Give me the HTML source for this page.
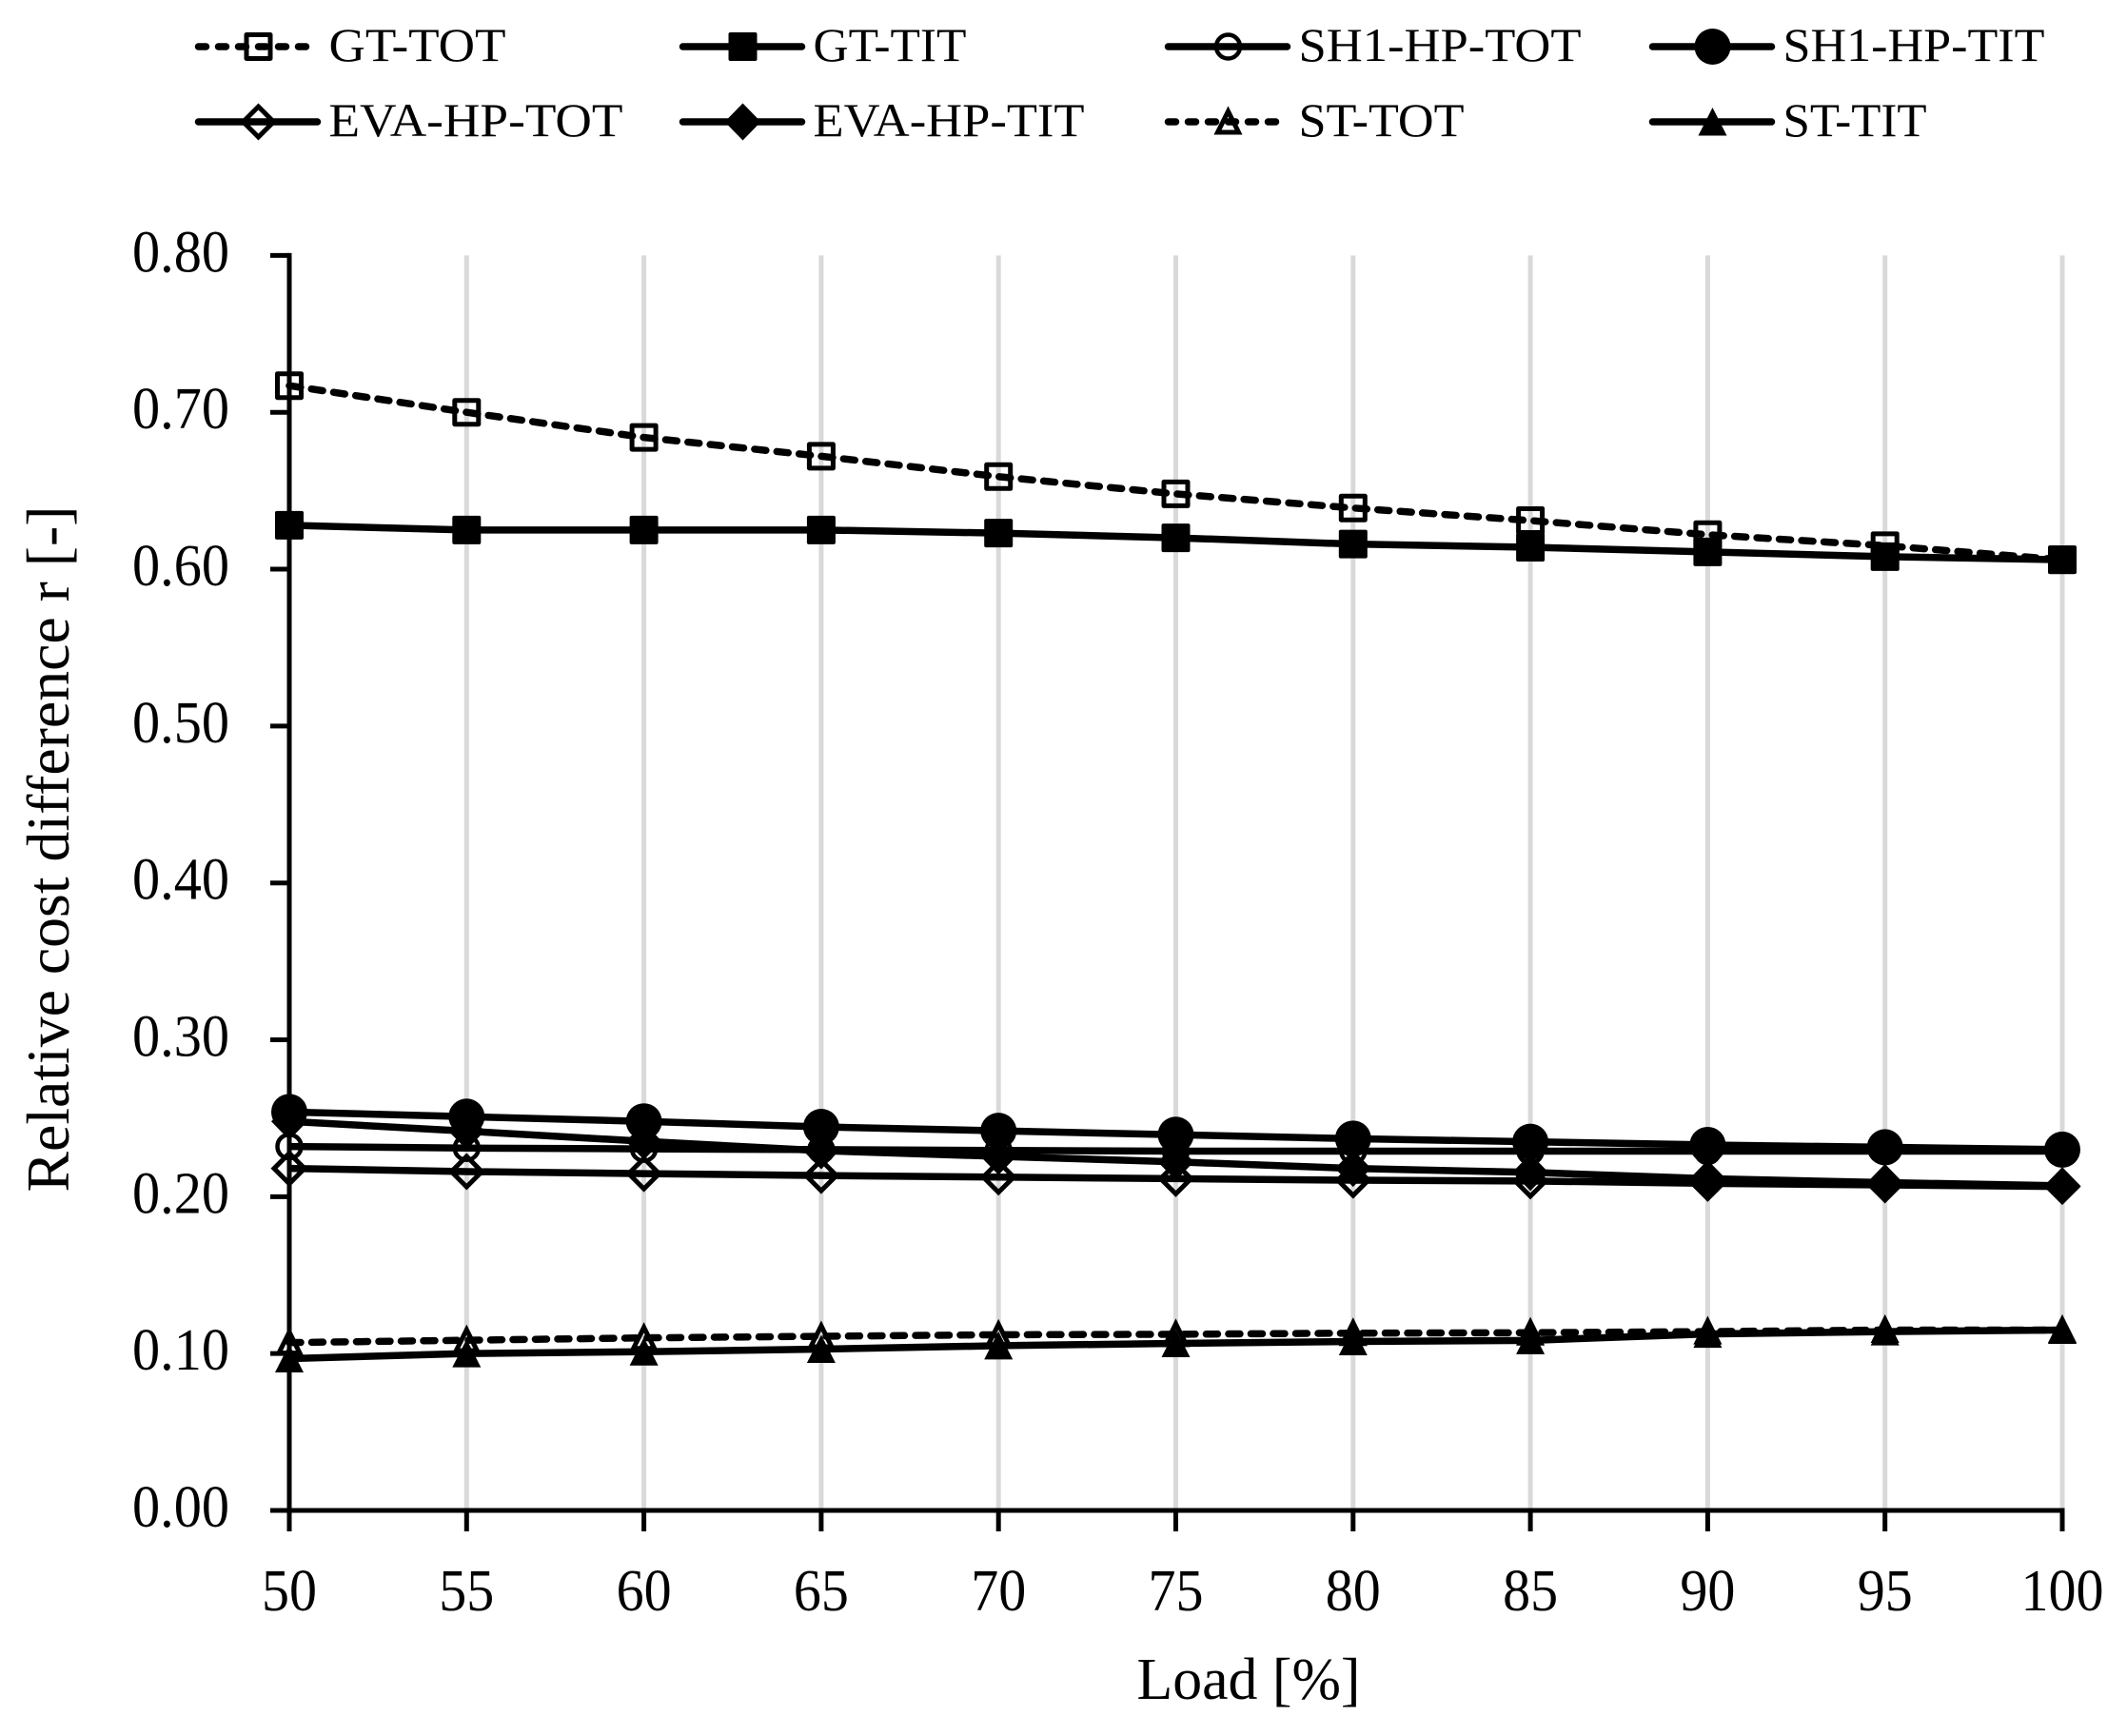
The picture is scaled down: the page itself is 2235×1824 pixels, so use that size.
<!DOCTYPE html>
<html lang="en">
<head>
<meta charset="utf-8">
<title>Relative cost difference vs load</title>
<style>
html,body{margin:0;padding:0;background:#fff;width:2235px;height:1824px;overflow:hidden}
svg{display:block}
text{font-family:"Liberation Serif","Noto Serif CJK SC",serif;fill:#000}
</style>
</head>
<body>
<svg id="chart" xmlns="http://www.w3.org/2000/svg" width="2235" height="1824" viewBox="0 0 2235 1824">
  <rect x="0" y="0" width="2235" height="1824" fill="#fff"/>
  <g id="grid"></g>
  <g id="series"></g>
  <g id="axes"></g>
  <g id="legend"></g>
  <text transform="translate(72 892) rotate(-90)" text-anchor="middle" font-size="63" textLength="721" lengthAdjust="spacingAndGlyphs">Relative cost difference r [-]</text>
  <text x="1312" y="1785" text-anchor="middle" font-size="62" textLength="235" lengthAdjust="spacingAndGlyphs">Load [%]</text>
</svg>
<script>
const loads = [50, 55, 60, 65, 70, 75, 80, 85, 90, 95, 100];
const yTicks = [0, 0.1, 0.2, 0.3, 0.4, 0.5, 0.6, 0.7, 0.8];
const yTickLabels = ['0.00', '0.10', '0.20', '0.30', '0.40', '0.50', '0.60', '0.70', '0.80'];
const xTickLabels = ['50', '55', '60', '65', '70', '75', '80', '85', '90', '95', '100'];

const gtTot = [0.717, 0.700, 0.684, 0.672, 0.659, 0.648, 0.639, 0.631, 0.622, 0.615, 0.606];
const gtTit = [0.628, 0.625, 0.625, 0.625, 0.623, 0.620, 0.616, 0.614, 0.611, 0.608, 0.606];
const sh1HpTot = [0.232, 0.231, 0.2305, 0.230, 0.2295, 0.229, 0.229, 0.229, 0.229, 0.229, 0.229];
const sh1HpTit = [0.254, 0.2510, 0.248, 0.2445, 0.242, 0.2395, 0.237, 0.235, 0.233, 0.2315, 0.230];
const evaHpTot = [0.2180, 0.216, 0.2147, 0.2135, 0.2125, 0.2115, 0.2105, 0.210, 0.2085, 0.2075, 0.2065];
const evaHpTit = [0.248, 0.2418, 0.2353, 0.2293, 0.2257, 0.2222, 0.218, 0.2155, 0.2115, 0.209, 0.2070];
const stTot = [0.107, 0.1085, 0.110, 0.111, 0.112, 0.1123, 0.113, 0.1133, 0.114, 0.115, 0.115];
const stTit = [0.0968, 0.1000, 0.1012, 0.1028, 0.1050, 0.1065, 0.1077, 0.1084, 0.1125, 0.1140, 0.115];

const NS = 'http://www.w3.org/2000/svg';
const xScale = v => 304 + (v - 50) * (2167 - 304) / 50;
const yScale = v => 1587 - v * (1587 - 268.4) / 0.8;

function make(tag, attrs, parent) {
  const el = document.createElementNS(NS, tag);
  for (const k in attrs) el.setAttribute(k, attrs[k]);
  parent.appendChild(el);
  return el;
}

function drawMarker(kind, x, y, parent) {
  let el;
  if (kind === 'square-open') {
    el = make('rect', {x: x - 12.5, y: y - 12.5, width: 25, height: 25, fill: 'none', stroke: '#000', 'stroke-width': 5, 'stroke-linejoin': 'round'}, parent);
  } else if (kind === 'square-filled') {
    el = make('rect', {x: x - 15, y: y - 15, width: 30, height: 30, rx: 2, fill: '#000'}, parent);
  } else if (kind === 'circle-open') {
    el = make('circle', {cx: x, cy: y, r: 12.5, fill: 'none', stroke: '#000', 'stroke-width': 4.5}, parent);
  } else if (kind === 'circle-filled') {
    el = make('circle', {cx: x, cy: y, r: 19, fill: '#000'}, parent);
  } else if (kind === 'diamond-open') {
    el = make('polygon', {points: [x, y - 16, x + 16, y, x, y + 16, x - 16, y].join(' '), fill: 'none', stroke: '#000', 'stroke-width': 5, 'stroke-linejoin': 'miter'}, parent);
  } else if (kind === 'diamond-filled') {
    el = make('polygon', {points: [x, y - 19.5, x + 19, y, x, y + 19.5, x - 19, y].join(' '), fill: '#000'}, parent);
  } else if (kind === 'triangle-open') {
    el = make('polygon', {points: [x, y - 11, x + 11, y + 11, x - 11, y + 11].join(' '), fill: 'none', stroke: '#000', 'stroke-width': 5, 'stroke-linejoin': 'miter'}, parent);
  } else {
    el = make('polygon', {points: [x, y - 15, x + 15, y + 14.5, x - 15, y + 14.5].join(' '), fill: '#000'}, parent);
  }
  return el;
}

const grid = document.getElementById('grid');
loads.forEach(load => {
  if (load === 50) return;
  const line = make('line', {x1: xScale(load), x2: xScale(load), y1: yScale(0.8), y2: yScale(0), stroke: '#d9d9d9', 'stroke-width': 5}, grid);
  
  
});

const seriesGroup = document.getElementById('series');
function drawSeries(name, values, kind, dashed) {
  const g = make('g', {}, seriesGroup);
  
  
  const points = values.map((v, i) => xScale(loads[i]) + ',' + yScale(v)).join(' ');
  const attrs = {points: points, fill: 'none', stroke: '#000', 'stroke-width': 7.5, 'stroke-linejoin': 'round'};
  if (dashed) {
    attrs['stroke-dasharray'] = '12 11.5';
    attrs['stroke-linecap'] = 'round';
  }
  const line = make('polyline', attrs, g);
  
  
  values.forEach((v, i) => {
    const m = drawMarker(kind, xScale(loads[i]), yScale(v), g);
    
    
  });
}
drawSeries('gt-tot', gtTot, 'square-open', true);
drawSeries('gt-tit', gtTit, 'square-filled', false);
drawSeries('sh1-hp-tot', sh1HpTot, 'circle-open', false);
drawSeries('sh1-hp-tit', sh1HpTit, 'circle-filled', false);
drawSeries('eva-hp-tot', evaHpTot, 'diamond-open', false);
drawSeries('eva-hp-tit', evaHpTit, 'diamond-filled', false);
drawSeries('st-tot', stTot, 'triangle-open', true);
drawSeries('st-tit', stTit, 'triangle-filled', false);

const axes = document.getElementById('axes');
const ySpine = make('line', {x1: xScale(50), x2: xScale(50), y1: yScale(0.8) - 2.5, y2: yScale(0) + 22, stroke: '#000', 'stroke-width': 5}, axes);


const xSpine = make('line', {x1: xScale(50) - 20, x2: xScale(100) + 2.5, y1: yScale(0), y2: yScale(0), stroke: '#000', 'stroke-width': 5}, axes);



yTicks.forEach((t, i) => {
  const y = yScale(t);
  const tick = make('line', {x1: xScale(50) - 20, x2: xScale(50), y1: y, y2: y, stroke: '#000', 'stroke-width': 5}, axes);
  
  
  const label = make('text', {x: 241, y: y + 17, 'text-anchor': 'end', 'font-size': 62, textLength: 102, lengthAdjust: 'spacingAndGlyphs'}, axes);
  label.textContent = yTickLabels[i];
  
  
});

loads.forEach((load, i) => {
  const x = xScale(load);
  const tick = make('line', {x1: x, x2: x, y1: yScale(0), y2: yScale(0) + 22, stroke: '#000', 'stroke-width': 5}, axes);
  
  
  const label = make('text', {x: x, y: 1692, 'text-anchor': 'middle', 'font-size': 62, textLength: xTickLabels[i].length * 29, lengthAdjust: 'spacingAndGlyphs'}, axes);
  label.textContent = xTickLabels[i];
  
  
});

const legendNames = ['GT-TOT', 'GT-TIT', 'SH1-HP-TOT', 'SH1-HP-TIT', 'EVA-HP-TOT', 'EVA-HP-TIT', 'ST-TOT', 'ST-TIT'];
const legendKinds = ['square-open', 'square-filled', 'circle-open', 'circle-filled', 'diamond-open', 'diamond-filled', 'triangle-open', 'triangle-filled'];
const legendDashed = [true, false, false, false, false, false, true, false];
const legendWidths = [186, 161, 297, 275, 309, 285, 174, 151];
const legendGroup = document.getElementById('legend');
const legendColumns = [207, 716, 1226, 1735];
const legendRows = [49, 128];
legendNames.forEach((name, i) => {
  const col = legendColumns[i % 4];
  const rowY = legendRows[Math.floor(i / 4)];
  const g = make('g', {}, legendGroup);
  
  
  const attrs = {x1: col + 1.5, x2: col + 126.5, y1: rowY, y2: rowY, stroke: '#000', 'stroke-width': 7.5};
  if (legendDashed[i]) {
    attrs['stroke-dasharray'] = '8 13';
  }
  attrs['stroke-linecap'] = 'round';
  const line = make('line', attrs, g);
  
  
  const marker = drawMarker(legendKinds[i], col + 64.5, rowY, g);
  
  
  const text = make('text', {x: col + 138.5, y: rowY + 15, 'font-size': 50, textLength: legendWidths[i], lengthAdjust: 'spacingAndGlyphs'}, g);
  text.textContent = name;
  
  
});
</script>
</body>
</html>
